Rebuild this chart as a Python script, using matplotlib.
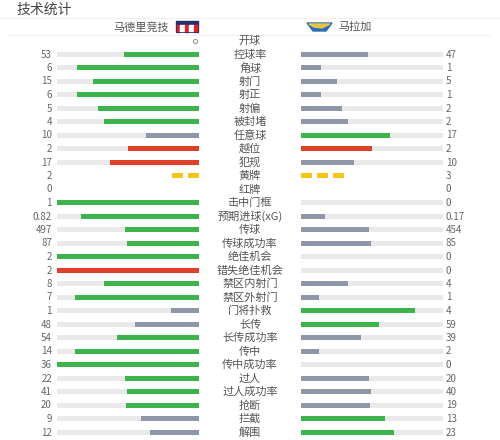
import matplotlib
matplotlib.use('Agg')
import matplotlib.pyplot as plt
from matplotlib.patches import Rectangle, Polygon
import numpy as np

plt.rcParams['font.family'] = ['Noto Sans CJK SC', 'DejaVu Sans']

title = '技术统计'
home_team = '马德里竞技'
away_team = '马拉加'

stat_labels = ['开球', '控球率', '角球', '射门', '射正', '射偏', '被封堵', '任意球',
               '越位', '犯规', '黄牌', '红牌', '击中门框', '预期进球(xG)', '传球',
               '传球成功率', '绝佳机会', '错失绝佳机会', '禁区内射门', '禁区外射门',
               '门将扑救', '长传', '长传成功率', '传中', '传中成功率', '过人',
               '过人成功率', '抢断', '拦截', '解围']
home_vals = [None, 53, 6, 15, 6, 5, 4, 10, 2, 17, 2, 0, 1, 0.82, 497, 87, 2, 2,
             8, 7, 1, 48, 54, 14, 36, 22, 41, 20, 9, 12]
away_vals = [None, 47, 1, 5, 1, 2, 2, 17, 2, 10, 3, 0, 0, 0.17, 454, 85, 0, 0,
             4, 1, 4, 59, 39, 2, 0, 20, 40, 19, 13, 23]
bad_stats = ['越位', '犯规', '错失绝佳机会']
card_stats = {'黄牌': '#f5c518', '红牌': '#e0402a'}

GREEN = '#3cb44b'
GRAY = '#8e97a8'
RED = '#e0402a'
TRACK = '#e9e9e9'

fig = plt.figure(figsize=(5, 4.4), dpi=100)
ax = fig.add_axes([0, 0, 1, 1])
ax.set_xlim(0, 500)
ax.set_ylim(440, 0)
ax.axis('off')

# header
ax.text(17, 10, title, fontsize=10, color='#444444', va='center', ha='left')
ax.plot([0, 500], [18, 18], color='#f0f0f0', lw=0.8)
ax.plot([8, 490], [35, 35], color='#f0f0f0', lw=0.8)
ax.text(169, 27, home_team, fontsize=8, color='#555555', va='center', ha='right')
ax.text(338, 27, away_team, fontsize=8, color='#555555', va='center', ha='left')

# atletico badge
ax.add_patch(Rectangle((176, 21), 22, 4, color='#27306b'))
for k in range(5):
    ax.add_patch(Rectangle((176 + k * 4.4, 25), 4.4, 7,
                           color='#d9232d' if k % 2 == 0 else 'white'))
ax.add_patch(Rectangle((176, 21), 22, 11, fill=False, ec='#27306b', lw=0.6))
# malaga badge
ax.add_patch(Polygon([[307, 23], [332, 23], [326, 31], [313, 31]], color='#2e6db4'))
ax.add_patch(Polygon([[309, 24], [330, 24], [322, 28], [314, 27]], color='#e8c547'))

bar_w = 142
left_end = 199
right_start = 301
ys = 41 + 13.5 * np.arange(len(stat_labels))

for label, h, a, y in zip(stat_labels, home_vals, away_vals, ys):
    ax.text(250, y, label, fontsize=8, color='#555555', ha='center', va='center')
    if h is None:
        ax.plot(195, y, marker='o', ms=3, mfc='none', mec='#999999', mew=0.8)
        continue
    ax.text(52, y, str(h), fontsize=7, color='#666666', ha='right', va='center')
    ax.text(446, y, str(a), fontsize=7, color='#666666', ha='left', va='center')
    if label in card_stats:
        c = card_stats[label]
        hx = left_end - 11 - 16 * np.arange(h)
        ax.barh([y] * h, [11] * h, left=hx, height=5, color=c)
        ax.barh([y] * a, [11] * a, left=right_start + 16 * np.arange(a), height=5, color=c)
        continue
    ax.barh(y, bar_w, left=left_end - bar_w, height=5, color=TRACK)
    ax.barh(y, bar_w, left=right_start, height=5, color=TRACK)
    total = h + a
    if total == 0:
        continue
    win = RED if label in bad_stats else GREEN
    hc = win if h >= a else GRAY
    ac = win if a >= h else GRAY
    hw = bar_w * h / total
    aw = bar_w * a / total
    ax.barh(y, hw, left=left_end - hw, height=5, color=hc)
    ax.barh(y, aw, left=right_start, height=5, color=ac)

fig.savefig('out.png', dpi=100)
